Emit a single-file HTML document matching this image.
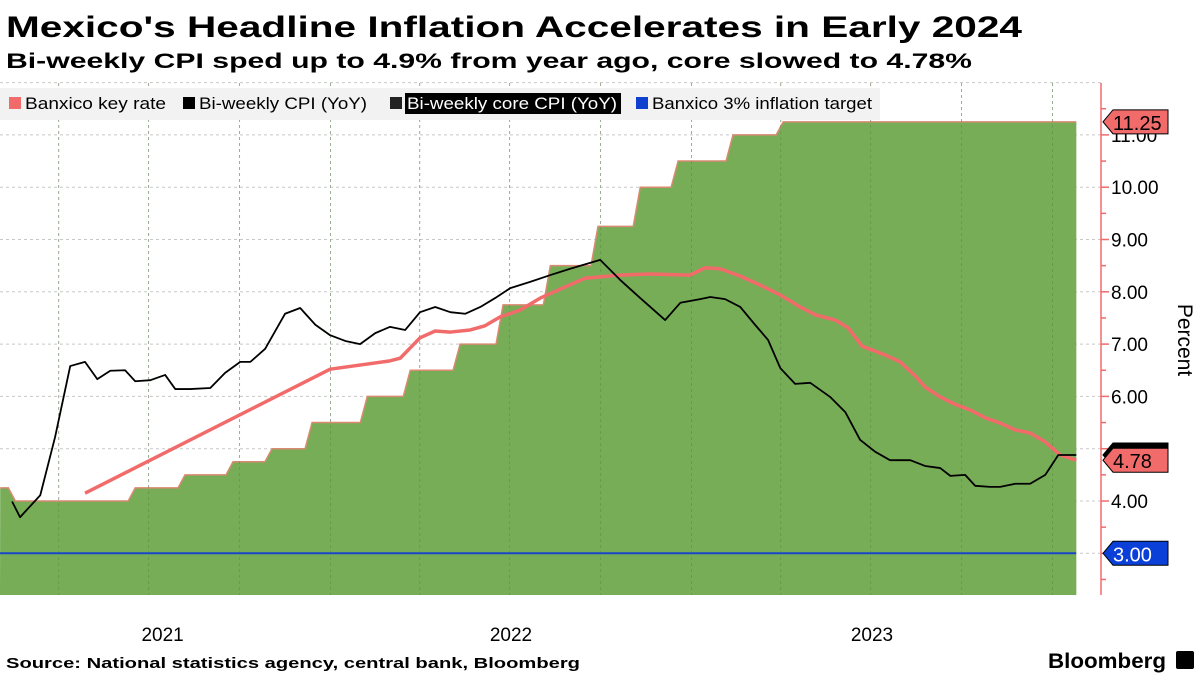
<!DOCTYPE html>
<html><head><meta charset="utf-8"><style>
body{margin:0;background:#fff;width:1200px;height:675px;overflow:hidden}
svg{display:block;font-family:"Liberation Sans",sans-serif}
</style></head><body>
<svg id="chart" width="1200" height="675" viewBox="0 0 1200 675">
<text x="6" y="37" font-size="30" font-weight="bold" textLength="1016" lengthAdjust="spacingAndGlyphs">Mexico's Headline Inflation Accelerates in Early 2024</text>
<text x="6" y="68" font-size="21" font-weight="bold" textLength="966" lengthAdjust="spacingAndGlyphs">Bi-weekly CPI sped up to 4.9% from year ago, core slowed to 4.78%</text>
<g id="grid"></g>
<g id="area"></g>
<g id="grid2"></g>
<g id="lines"></g>
<g>
<rect x="0" y="88" width="880" height="32" fill="#f2f2f2"/>
<rect x="9" y="97" width="12" height="12" fill="#f26b6b"/>
<text x="25" y="109" font-size="17" textLength="141" lengthAdjust="spacingAndGlyphs">Banxico key rate</text>
<rect x="183" y="97" width="12" height="12" fill="#000"/>
<text x="199" y="109" font-size="17" textLength="168" lengthAdjust="spacingAndGlyphs">Bi-weekly CPI (YoY)</text>
<rect x="390" y="97" width="12" height="12" fill="#222"/>
<rect x="405" y="93" width="216" height="21" fill="#000"/>
<text x="407" y="109" font-size="17" fill="#fff" textLength="210" lengthAdjust="spacingAndGlyphs">Bi-weekly core CPI (YoY)</text>
<rect x="636" y="97" width="12" height="12" fill="#1040d0"/>
<text x="652" y="109" font-size="17" textLength="220" lengthAdjust="spacingAndGlyphs">Banxico 3% inflation target</text>
</g>
<g id="axis"></g>
<g id="xaxis"></g>
<text transform="translate(1178,340) rotate(90)" font-size="21" text-anchor="middle">Percent</text>
<text x="6" y="668" font-size="15" font-weight="bold" textLength="574" lengthAdjust="spacingAndGlyphs">Source: National statistics agency, central bank, Bloomberg</text>
<text x="1048" y="668" font-size="21" font-weight="bold" textLength="118" lengthAdjust="spacingAndGlyphs">Bloomberg</text>
<rect x="1176" y="651" width="18" height="18" rx="2" fill="#000"/>
</svg>
<script>
const rateDates=[2021.085,2021.127,2021.459,2021.597,2021.730,2021.838,2021.949,2022.102,2022.221,2022.359,2022.478,2022.609,2022.741,2022.858,2022.963,2023.115,2023.254];
const rateValues=[4.25,4.00,4.25,4.50,4.75,5.00,5.50,6.00,6.50,7.00,7.75,8.50,9.25,10.00,10.50,11.00,11.25];
const endDate=2024.066;
const cpiDates=[2021.118,2021.140,2021.196,2021.237,2021.279,2021.320,2021.354,2021.390,2021.431,2021.459,2021.501,2021.542,2021.570,2021.611,2021.667,2021.708,2021.750,2021.778,2021.819,2021.874,2021.916,2021.958,2021.999,2022.041,2022.082,2022.124,2022.165,2022.207,2022.248,2022.290,2022.332,2022.373,2022.415,2022.456,2022.498,2022.553,2022.609,2022.664,2022.747,2022.802,2022.858,2022.927,2022.969,2023.024,2023.052,2023.093,2023.135,2023.176,2023.212,2023.246,2023.287,2023.329,2023.384,2023.426,2023.467,2023.509,2023.550,2023.606,2023.647,2023.689,2023.717,2023.758,2023.786,2023.827,2023.855,2023.897,2023.938,2023.980,2024.016,2024.043,2024.066];
const cpiValues=[3.99,3.69,4.11,5.22,6.58,6.66,6.33,6.49,6.50,6.29,6.31,6.41,6.14,6.14,6.16,6.45,6.66,6.66,6.91,7.58,7.69,7.37,7.17,7.06,7.00,7.21,7.33,7.27,7.61,7.71,7.61,7.58,7.71,7.88,8.07,8.19,8.32,8.44,8.61,8.23,7.88,7.46,7.79,7.86,7.90,7.86,7.71,7.37,7.08,6.54,6.24,6.26,5.99,5.70,5.17,4.94,4.78,4.78,4.67,4.63,4.48,4.50,4.29,4.27,4.27,4.33,4.33,4.50,4.88,4.88,4.88];
const coreDates=[2021.320,2021.999,2022.165,2022.193,2022.248,2022.290,2022.332,2022.387,2022.428,2022.470,2022.525,2022.581,2022.636,2022.705,2022.802,2022.886,2022.996,2023.038,2023.079,2023.135,2023.190,2023.246,2023.301,2023.343,2023.398,2023.434,2023.473,2023.537,2023.578,2023.620,2023.647,2023.689,2023.730,2023.772,2023.814,2023.855,2023.897,2023.938,2023.980,2024.021,2024.066];
const coreValues=[4.15,6.52,6.68,6.73,7.12,7.25,7.23,7.27,7.35,7.52,7.65,7.88,8.05,8.26,8.32,8.34,8.32,8.46,8.44,8.30,8.13,7.94,7.71,7.56,7.46,7.31,6.96,6.79,6.66,6.39,6.18,5.99,5.85,5.74,5.59,5.49,5.36,5.30,5.13,4.88,4.78];
const targetValue=3.0;
const yTicks=[4,5,6,7,8,9,10,11];
const yTickLabels=["4.00","","6.00","7.00","8.00","9.00","10.00","11.00"];
const yearLabels=["2021","2022","2023"];
const yearPositions=[2021.535,2022.5,2023.5];

const NS="http://www.w3.org/2000/svg";
const X=t=>511+(t-2022.5)*361;
const Y=v=>501-(v-4)*52.3;
const PL=0,PR=1076,PT=83,PB=595,AX=1101;
function mk(tag,at,parent){const e=document.createElementNS(NS,tag);for(const k in at)e.setAttribute(k,at[k]);document.getElementById(parent).appendChild(e);return e;}
for(let v=3;v<=12;v++){const g=mk('line',{x1:PL,x2:AX,y1:Y(v),y2:Y(v),stroke:'#c8c8c8','stroke-dasharray':'3,3'},'grid');

}
const quarterStarts=[2021.247,2021.496,2021.748,2022.0,2022.247,2022.496,2022.748,2023.0,2023.247,2023.496,2023.748,2024.0];
quarterStarts.forEach(q=>{const x=X(q);if(x<PL||x>PR)return;
const g=mk('line',{x1:x,x2:x,y1:PT,y2:PB,stroke:'#c8c8c8','stroke-dasharray':'3,3'},'grid');


const g2=mk('line',{x1:x,x2:x,y1:PT,y2:PB,stroke:'#4a7a3a','stroke-opacity':'0.35','stroke-dasharray':'3,3'},'grid2');

});
let pts=[[X(rateDates[0]),Y(rateValues[0])]];
for(let i=1;i<rateDates.length;i++){const x=X(rateDates[i]);pts.push([x-7,Y(rateValues[i-1])]);pts.push([x,Y(rateValues[i])]);}
pts.push([X(endDate),Y(rateValues[rateValues.length-1])]);
pts[0][0]=Math.max(PL,pts[0][0]);
const topPts=pts.map(p=>p.join(',')).join(' ');
const area=mk('polygon',{points:`${PL},${PB} `+topPts+` ${X(endDate)},${PB}`,fill:'#77ad57'},'area');


const edge=mk('polyline',{points:topPts,fill:'none',stroke:'#d98a70','stroke-width':1.5},'area');


const tl=mk('line',{x1:PL,x2:PR,y1:Y(targetValue),y2:Y(targetValue),stroke:'#1846c8','stroke-width':2},'lines');


function line(d,v,attrs){return mk('polyline',Object.assign({points:d.map((t,i)=>X(t)+','+Y(v[i])).join(' '),fill:'none','stroke-linejoin':'round'},attrs),'lines');}
const cl=line(coreDates,coreValues,{stroke:'#f26b6b','stroke-width':3.5});


const bl=line(cpiDates,cpiValues,{stroke:'#000','stroke-width':1.8});


const ax=mk('line',{x1:AX,x2:AX,y1:PT,y2:PB,stroke:'#f26b6b','stroke-width':1.5},'axis');


for(let v=2.5;v<=12;v+=0.5){const y=Y(v);if(y<PT||y>PB)continue;
const tk=mk('line',{x1:AX,x2:AX+(v%1===0?8:5),y1:y,y2:y,stroke:'#f26b6b','stroke-width':1.5},'axis');

}
yTicks.forEach((v,i)=>{if(!yTickLabels[i])return;const t=mk('text',{x:1111,y:Y(v)+7,'font-size':19},'axis');t.textContent=yTickLabels[i];

});
function tag(v,label,fill,color,name){const y=Y(v);
const p=mk('polygon',{points:`${AX+2},${y} ${AX+12},${y-12} 1168,${y-12} 1168,${y+12} ${AX+12},${y+12}`,fill:fill,stroke:'#000','stroke-width':1},'axis');


const t=mk('text',{x:1113,y:y+8,'font-size':20,fill:color},'axis');t.textContent=label;

}
tag(cpiValues[cpiValues.length-1],'',"#000","#fff",'cpi-value-tag');
tag(coreValues[coreValues.length-1],coreValues[coreValues.length-1].toFixed(2),"#f26b6b","#000",'core-value-tag');
tag(rateValues[rateValues.length-1],rateValues[rateValues.length-1].toFixed(2),"#f26b6b","#000",'rate-value-tag');
tag(targetValue,targetValue.toFixed(2),"#0a3fd8","#fff",'target-value-tag');
yearLabels.forEach((s,i)=>{const t=mk('text',{x:X(yearPositions[i]),y:641,'font-size':19,'text-anchor':'middle'},'xaxis');t.textContent=s;

});
</script>
</body></html>
